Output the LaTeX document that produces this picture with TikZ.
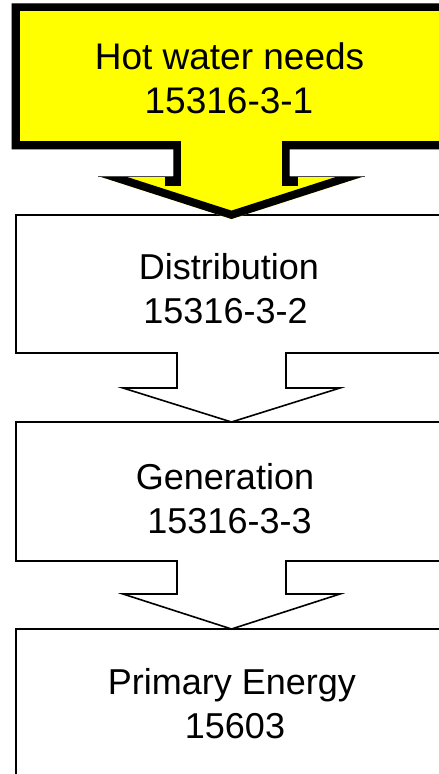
\documentclass[tikz,border=0pt]{standalone}
\usepackage{fontspec}
\setmainfont{Liberation Sans}
\definecolor{hotyellow}{RGB}{255,255,0}
\begin{document}
\begin{tikzpicture}[x=1pt,y=-1pt,
  lbl/.style={font=\fontsize{36}{42}\selectfont, inner sep=0pt, anchor=base},
  toplbl/.style={lbl, font=\fontsize{37}{42}\selectfont},
  blockarrow/.style={draw=black, line width=1.6pt, fill=white, line join=miter},
  thickline/.style={draw=black, line width=16pt, line join=miter}]
\useasboundingbox (0,0) rectangle (439,774);
\begin{scope}
\clip (0,0) rectangle (439,774);
% Distribution block arrow
\path[blockarrow] (16,215) -- (448,215) -- (448,353) -- (286,353) -- (286,388) -- (340,388)
  -- (231.5,422) -- (123,388) -- (177,388) -- (177,353) -- (16,353) -- cycle;
% Generation block arrow
\path[blockarrow] (16,422) -- (448,422) -- (448,561) -- (286,561) -- (286,594) -- (340,594)
  -- (231.5,629) -- (123,594) -- (177,594) -- (177,561) -- (16,561) -- cycle;
% Primary energy box
\path[blockarrow] (16,629) -- (448,629) -- (448,800) -- (16,800) -- cycle;
% Yellow block arrow (outline drawn inside the shape)
\begin{scope}
\path[clip] (11.7,3.3) -- (451.3,3.3) -- (451.3,149.3) -- (289.7,149.3) -- (289.7,176)
  -- (365,176) -- (231.5,219) -- (98,176) -- (173.3,176) -- (173.3,149.3) -- (11.7,149.3) -- cycle;
\fill[hotyellow] (0,0) rectangle (460,230);
\draw[thickline] (173.3,186) -- (173.3,149.3) -- (11.7,149.3) -- (11.7,3.3) -- (451.3,3.3)
  -- (451.3,149.3) -- (289.7,149.3) -- (289.7,186);
\draw[thickline] (98,176) -- (231.5,219) -- (365,176);
\end{scope}
\draw[line width=0.8pt, black!70] (98,176) -- (173.3,176) (289.7,176) -- (365,176);
\end{scope}
% texts
\node[toplbl] (hw1) at (229.5,69) {Hot water needs};
\node[toplbl] (hw2) at (229,113) {15316-3-1};
\node[lbl] (di1) at (229,279) {Distribution};
\node[lbl] (di2) at (225.5,323) {15316-3-2};
\node[lbl] (ge1) at (225,489) {Generation};
\node[lbl] (ge2) at (229.5,533) {15316-3-3};
\node[lbl] (pe1) at (232,694) {Primary Energy};
\node[lbl] (pe2) at (235,738) {15603};
\end{tikzpicture}
\end{document}
